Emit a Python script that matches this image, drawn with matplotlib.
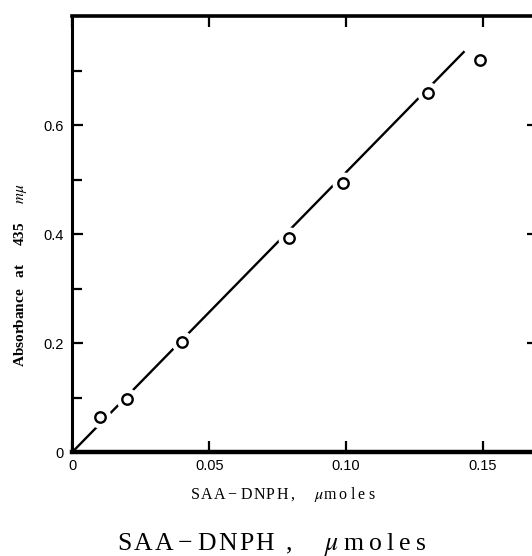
"""Absorbance at 435 mu vs SAA-DNPH standard curve."""

import matplotlib.pyplot as plt
from matplotlib.ticker import FixedLocator

# data
saa_dnph = [0.01, 0.02, 0.04, 0.079, 0.099, 0.130, 0.149]
absorbance = [0.065, 0.097, 0.202, 0.392, 0.494, 0.658, 0.719]
fit_x = [0.0, 0.1432]
fit_y = [0.0, 0.7355]

x_ticks = [0, 0.05, 0.10, 0.15]
x_tick_labels = ["0", "0.05", "0.10", "0.15"]
y_ticks = [0, 0.2, 0.4, 0.6]
y_tick_labels = ["0", "0.2", "0.4", "0.6"]
y_minor = [0.1, 0.3, 0.5, 0.7]

plt.rcParams['font.family'] = ['Liberation Sans', 'DejaVu Sans']
plt.rcParams['mathtext.fontset'] = 'stix'
serif = ['Liberation Serif', 'DejaVu Serif']

fig = plt.figure(figsize=(5.32, 5.56), dpi=100)
ax = fig.add_axes([0.136, 0.187, 0.875, 0.784])

# fitted line, broken around the points by white halos
ax.plot(fit_x, fit_y, color="black", lw=1.7, solid_capstyle="butt", zorder=2)
ax.plot(saa_dnph, absorbance, ls="none", marker="o", ms=15,
        mfc="white", mec="white", zorder=3)
ax.plot(saa_dnph, absorbance, ls="none", marker="o", ms=7.5,
        mfc="white", mec="black", mew=1.7, zorder=4)

ax.set_xlim(0, 0.17)
ax.set_ylim(0, 0.8)

ax.xaxis.set_major_locator(FixedLocator(x_ticks))
ax.set_xticklabels(x_tick_labels)
ax.yaxis.set_major_locator(FixedLocator(y_ticks))
ax.set_yticklabels(y_tick_labels)
ax.yaxis.set_minor_locator(FixedLocator(y_minor))

ax.tick_params(axis="both", which="major", direction="in", length=8, width=1.6,
               labelsize=10.5, top=True, right=True)
ax.tick_params(axis="y", which="minor", direction="in", length=7, width=1.6,
               left=True, right=False)
ax.tick_params(axis="y", which="major", pad=6)
ax.tick_params(axis="x", which="major", pad=5)

ax.spines["left"].set_linewidth(2.2)
ax.spines["bottom"].set_linewidth(3.2)
ax.spines["top"].set_linewidth(2.6)
ax.spines["right"].set_visible(False)  # falls outside the cropped scan

# axis titles, letter-spaced like the typeset original
fig.text(190 / 532, 1 - 495 / 556,
         "S\u200aA\u200aA\u2009\u2212\u2009D\u200aN\u200aP\u200aH\u2009,     "
         "$\\mu$m\u2009o\u2009l\u2009e\u2009s",
         family=serif, fontsize=11.5, ha="left", va="center")
fig.text(21 / 532, 1 - 367 / 556,
         "Absorbance   at     435     $m\\mu$",
         family=serif, fontsize=11, fontweight="bold", rotation=90,
         ha="center", va="bottom")

fig.text(117 / 532, 1 - 544 / 556,
         "S\u200aA\u200aA\u2009\u2212\u2009D\u200aN\u200aP\u200aH\u2009 ,\u2003 "
         "$\\mu$\u2009m\u2009o\u2009l\u2009e\u2009s",
         family=serif, fontsize=18.5, ha="left", va="center")

fig.savefig("out.png", dpi=100)
